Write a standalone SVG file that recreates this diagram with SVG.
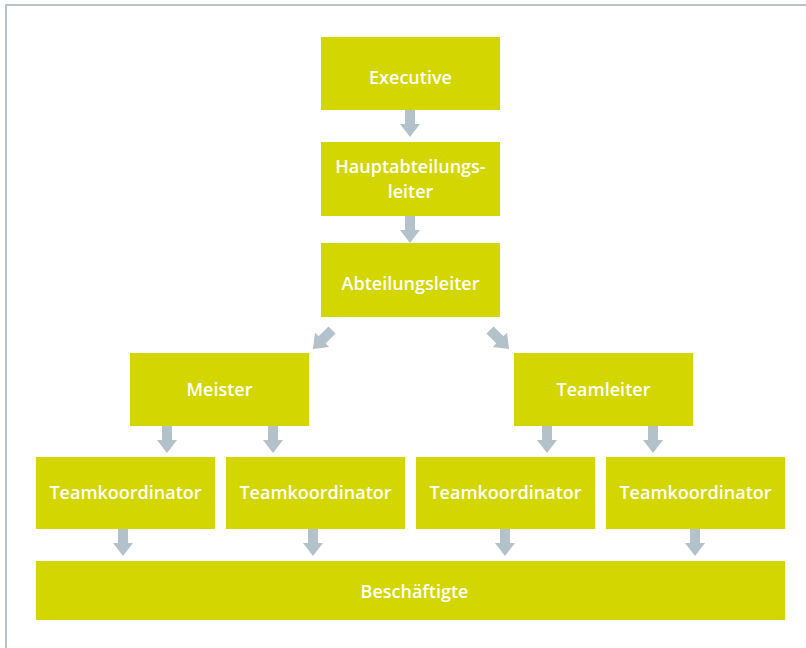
<svg xmlns="http://www.w3.org/2000/svg" xmlns:xlink="http://www.w3.org/1999/xlink" width="806" height="648" viewBox="0 0 806 648">
<style>
.box{fill:#d4d600}
.t{fill:#ffffff;font-family:"Open Sans","Noto Sans",sans-serif;font-weight:600;font-size:18px;text-anchor:middle}
.arr{fill:#b3c1ca}
</style>
<defs>
<path id="a" d="M-5,0 H5 V14 H10 L0,27 L-10,14 H-5 Z"/>
</defs>
<rect x="0" y="0" width="806" height="648" fill="#ffffff"/>
<path d="M6,648 V5 H806" fill="none" stroke="#b7c3cc" stroke-width="2"/>
<g id="connectors" class="arr">
<use xlink:href="#a" transform="translate(410,110)"/>
<use xlink:href="#a" transform="translate(410,216)"/>
<use xlink:href="#a" transform="translate(332,330) rotate(45)"/>
<use xlink:href="#a" transform="translate(490,330) rotate(-45)"/>
<use xlink:href="#a" transform="translate(167,426)"/>
<use xlink:href="#a" transform="translate(273,426)"/>
<use xlink:href="#a" transform="translate(547,426)"/>
<use xlink:href="#a" transform="translate(653,426)"/>
<use xlink:href="#a" transform="translate(123,529)"/>
<use xlink:href="#a" transform="translate(313,529)"/>
<use xlink:href="#a" transform="translate(505,529)"/>
<use xlink:href="#a" transform="translate(695,529)"/>
</g>
<g id="executive"><rect class="box" x="321" y="37" width="179" height="73"/><text class="t" x="410.5" y="84">Executive</text></g>
<g id="hauptabteilungsleiter"><rect class="box" x="321" y="142" width="179" height="74"/><text class="t" x="410.5" y="173">Hauptabteilungs-</text><text class="t" x="410.5" y="198">leiter</text></g>
<g id="abteilungsleiter"><rect class="box" x="321" y="243" width="179" height="74"/><text class="t" x="410.5" y="290">Abteilungsleiter</text></g>
<g id="meister"><rect class="box" x="130" y="353" width="179" height="73"/><text class="t" x="219.5" y="396">Meister</text></g>
<g id="teamleiter"><rect class="box" x="514" y="353" width="179" height="73"/><text class="t" x="603.5" y="396">Teamleiter</text></g>
<g id="tk1"><rect class="box" x="36" y="457" width="179" height="72"/><text class="t" x="125.5" y="499">Teamkoordinator</text></g>
<g id="tk2"><rect class="box" x="226" y="457" width="179" height="72"/><text class="t" x="315.5" y="499">Teamkoordinator</text></g>
<g id="tk3"><rect class="box" x="416" y="457" width="179" height="72"/><text class="t" x="505.5" y="499">Teamkoordinator</text></g>
<g id="tk4"><rect class="box" x="606" y="457" width="179" height="72"/><text class="t" x="695.5" y="499">Teamkoordinator</text></g>
<g id="beschaeftigte"><rect class="box" x="36" y="561" width="749" height="59"/><text class="t" x="414.5" y="598">Beschäftigte</text></g>
</svg>
